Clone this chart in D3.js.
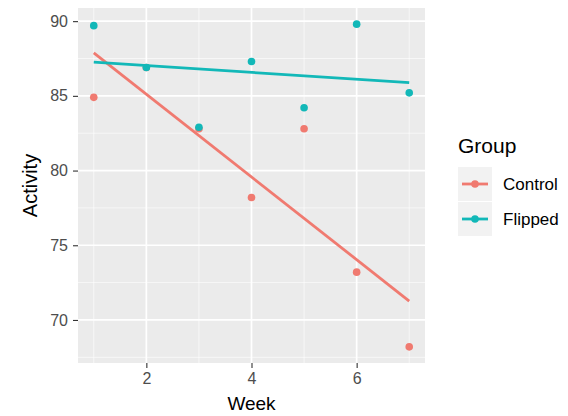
<!DOCTYPE html>
<html><head><meta charset="utf-8">
<script src="https://cdn.jsdelivr.net/npm/d3@7"></script>
<style>body{margin:0;background:#fff;} text{font-family:"Liberation Sans",Arial,sans-serif;}</style>
</head><body>
<svg id="chart" width="568" height="416"></svg>
<script>
const weeks = [1, 2, 3, 4, 5, 6, 7];
const groups = ["Control", "Flipped"];
const controlActivity = [84.9, 86.9, 82.8, 78.2, 82.8, 73.2, 68.2];
const flippedActivity = [89.7, 86.9, 82.9, 87.3, 84.2, 89.8, 85.2];
const xTicks = [2, 4, 6];
const yTicks = [70, 75, 80, 85, 90];
const colors = ["#F07A70", "#12B8B8"];

const series = [controlActivity, flippedActivity];
const svg = d3.select("#chart");
const pl = 78, pr = 425, pt = 8, pb = 363;

const allVals = controlActivity.concat(flippedActivity);
const yMin = d3.min(allVals), yMax = d3.max(allVals);
const yPad = (yMax - yMin) * 0.05;
const xPad = (d3.max(weeks) - d3.min(weeks)) * 0.05;
const x = d3.scaleLinear().domain([d3.min(weeks) - xPad, d3.max(weeks) + xPad]).range([pl, pr]);
const y = d3.scaleLinear().domain([yMin - yPad, yMax + yPad]).range([pb, pt]);

svg.append("rect").attr("x", pl).attr("y", pt).attr("width", pr - pl).attr("height", pb - pt).attr("fill", "#EBEBEB");

const xMinor = [1, 3, 5, 7];
const yMinor = [67.5, 72.5, 77.5, 82.5, 87.5];
const g = svg.append("g");
xMinor.forEach(v => g.append("line").attr("x1", x(v)).attr("x2", x(v)).attr("y1", pt).attr("y2", pb).attr("stroke", "#fff").attr("stroke-width", 0.8).attr("opacity", 0.8));
yMinor.forEach(v => g.append("line").attr("y1", y(v)).attr("y2", y(v)).attr("x1", pl).attr("x2", pr).attr("stroke", "#fff").attr("stroke-width", 0.8).attr("opacity", 0.8));
xTicks.forEach(v => g.append("line").attr("x1", x(v)).attr("x2", x(v)).attr("y1", pt).attr("y2", pb).attr("stroke", "#fff").attr("stroke-width", 1.7));
yTicks.forEach(v => g.append("line").attr("y1", y(v)).attr("y2", y(v)).attr("x1", pl).attr("x2", pr).attr("stroke", "#fff").attr("stroke-width", 1.7));

// axes
const xAxis = svg.append("g").attr("transform", `translate(0,${pb})`)
  .call(d3.axisBottom(x).tickValues(xTicks).tickSize(5).tickPadding(5).tickFormat(d3.format("d")));
const yAxis = svg.append("g").attr("transform", `translate(${pl},0)`)
  .call(d3.axisLeft(y).tickValues(yTicks).tickSize(5).tickPadding(5).tickFormat(d3.format("d")));
[xAxis, yAxis].forEach(a => {
  a.select(".domain").remove();
  a.selectAll(".tick line").attr("stroke", "#333").attr("stroke-width", 1.1);
  a.selectAll(".tick text").attr("fill", "#4D4D4D").style("font-size", "16px").style("font-family", "Liberation Sans, Arial, sans-serif");
});

// points
series.forEach((vals, i) => {
  svg.append("g").selectAll("circle").data(vals).join("circle")
    .attr("cx", (d, j) => x(weeks[j])).attr("cy", d => y(d)).attr("r", 3.8).attr("fill", colors[i]);
});

// regression lines
series.forEach((vals, i) => {
  const mx = d3.mean(weeks), my = d3.mean(vals);
  let sxy = 0, sxx = 0;
  weeks.forEach((w, j) => { sxy += (w - mx) * (vals[j] - my); sxx += (w - mx) ** 2; });
  const b = sxy / sxx, a = my - b * mx;
  const x0 = d3.min(weeks), x1 = d3.max(weeks);
  svg.append("line").attr("x1", x(x0)).attr("y1", y(a + b * x0)).attr("x2", x(x1)).attr("y2", y(a + b * x1))
    .attr("stroke", colors[i]).attr("stroke-width", 2.8);
});

// axis titles
svg.append("text").attr("x", (pl + pr) / 2).attr("y", 410).attr("text-anchor", "middle").attr("fill", "#000").style("font-size", "19px").text("Week");
svg.append("text").attr("transform", `translate(37,${(pt + pb) / 2}) rotate(-90)`).attr("text-anchor", "middle").attr("fill", "#000").style("font-size", "20px").text("Activity");

// legend
svg.append("text").attr("x", 458).attr("y", 153).attr("fill", "#000").style("font-size", "21px").text("Group");
groups.forEach((gname, i) => {
  const cy = 184 + i * 35;
  svg.append("rect").attr("x", 458).attr("y", cy - 17).attr("width", 34).attr("height", 34).attr("fill", "#F2F2F2");
  svg.append("line").attr("x1", 462).attr("x2", 488).attr("y1", cy).attr("y2", cy).attr("stroke", colors[i]).attr("stroke-width", 2.8);
  svg.append("circle").attr("cx", 475).attr("cy", cy).attr("r", 3.8).attr("fill", colors[i]);
  svg.append("text").attr("x", 503).attr("y", cy + 6).attr("fill", "#000").style("font-size", "17px").text(gname);
});
</script>
</body></html>
